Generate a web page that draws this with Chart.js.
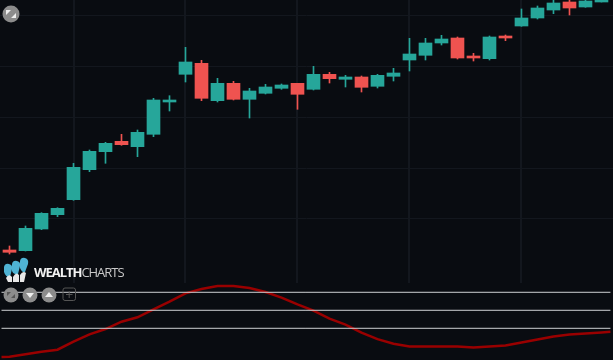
<!DOCTYPE html>
<html>
<head>
<meta charset="utf-8">
<script src="https://cdn.jsdelivr.net/npm/chart.js@4"></script>
<style>
    html, body { margin: 0; padding: 0; background: #090c11; overflow: hidden; }
    #wrap { position: relative; width: 613px; height: 360px; }
    #mainBox { position: absolute; left: 0; top: 0; width: 613px; height: 283px; }
    #oscBox { position: absolute; left: 0; top: 284px; width: 613px; height: 76px; }
    #brand { position: absolute; left: 34px; top: 263px; font: 13px "Open Sans", sans-serif; color: #c8c8c8; letter-spacing: -1.04px; }
    #brand b { color: #f2f2f2; font-weight: 700; }
    #icons { position: absolute; left: 0; top: 0; }
</style>
</head>
<body>
<div id="wrap">
    <div id="mainBox"><canvas id="mainChart"></canvas></div>
    <div id="oscBox"><canvas id="oscChart"></canvas></div>
    <svg id="icons" width="613" height="360">
        <g fill="#8c8c8c">
            <circle cx="11" cy="14" r="8.5"/>
            <circle cx="11" cy="295" r="7.5"/>
            <circle cx="30" cy="295" r="7.5"/>
            <circle cx="49" cy="295" r="7.5"/>
        </g>
        <g fill="#eeeeee">
            <path d="M6 15 L11 10 L6 10 Z M16 13 L11 18 L16 18 Z"/>
            <path d="M7 296 L11 292 L7 292 Z M15 294 L11 298 L15 298 Z" fill="#555"/>
            <path d="M26 293 L34 293 L30 298 Z"/>
            <path d="M45 297 L53 297 L49 292 Z"/>
        </g>
        <rect x="63" y="288" width="12.5" height="12.5" rx="2" fill="none" stroke="#555" stroke-width="1"/>
        <path d="M69.2 291 V298 M66 294.5 H72.5" stroke="#555" stroke-width="1"/>
        <g>
            <path d="M4 267 Q5 263 9 264 Q13 265 12 269 L10 277 Q6 278 4 272 Z" fill="#4fb3d4"/>
            <path d="M12 264 Q13 260 17 261 Q21 262 20 266 L18 274 Q14 275 12 271 Z" fill="#4fb3d4"/>
            <path d="M20 261 Q21 257 25 258 Q29 259 28 264 L25 272 Q22 273 20 268 Z" fill="#4fb3d4"/>
            <path d="M6 278 Q9 273 12 277 L12 282 H8 Z M13 277 Q16 271 19 275 L19 282 H13 Z M20 275 Q23 270 26 273 L24 282 H20 Z" fill="#e8e8e8"/>
        </g>
    </svg>
    <div id="brand"><b>WEALTH</b>CHARTS</div>
</div>
<script>
// Price is an unlabelled scale
const opens =  [33.0, 32.3, 54.0, 68.3, 83.3, 113.3, 131.3, 141.7, 136.3, 148.7, 181.0, 208.7, 219.7, 182.3, 199.7, 183.7, 189.7, 194.7, 199.7, 193.7, 208.7, 203.7, 206.0, 196.7, 206.7, 223.0, 227.7, 240.0, 245.0, 227.0, 224.3, 247.0, 257.0, 265.0, 273.0, 281.0, 276.0, 281.0];
const closes = [30.7, 54.7, 69.7, 74.7, 115.7, 131.7, 139.7, 138.3, 150.7, 183.0, 183.0, 221.0, 184.7, 199.7, 183.7, 192.0, 196.0, 198.0, 188.7, 208.7, 204.3, 206.0, 195.7, 207.7, 210.0, 229.0, 240.0, 244.0, 225.0, 225.0, 246.0, 245.0, 265.0, 275.0, 280.0, 275.0, 282.0, 284.0];
const highs =  [37.0, 57.0, 70.3, 75.3, 119.7, 133.0, 140.7, 148.7, 153.0, 184.7, 187.3, 235.7, 222.7, 204.7, 201.7, 194.7, 198.7, 199.0, 199.7, 216.7, 210.7, 207.7, 207.0, 208.7, 214.7, 244.7, 244.7, 247.7, 246.0, 229.7, 247.0, 248.0, 274.0, 277.0, 283.0, 283.0, 283.0, 284.0];
const lows =   [29.0, 32.0, 53.3, 66.3, 82.7, 111.3, 119.7, 137.7, 126.3, 146.3, 172.0, 201.0, 182.3, 181.0, 183.0, 165.0, 189.0, 193.7, 173.7, 193.0, 200.0, 196.0, 191.0, 195.0, 202.0, 212.0, 223.0, 238.0, 224.0, 222.0, 223.0, 242.3, 256.7, 264.0, 269.3, 268.0, 275.7, 281.0];

// Oscillator, one value per candle plus the two line ends
const oscLineX = [-0.5, 0, 1, 2, 3, 4, 5, 6, 7, 8, 9, 10, 11, 12, 13, 14, 15, 16, 17, 18, 19, 20, 21, 22, 23, 24, 25, 26, 27, 28, 29, 30, 31, 32, 33, 34, 35, 36, 37, 37.56];
const oscValues = [-27.7, -27.3, -23.4, -19, -15.7, -2.3, 10, 18.8, 31, 38.3, 51.7, 64.3, 78.3, 85.5, 90.5, 90.5, 87.2, 80.5, 71.2, 60, 49.5, 36.2, 26.2, 12.8, 2, -5.7, -10.2, -10.2, -10.2, -10.2, -11.8, -10.2, -8.5, -3.5, 1.5, 6.5, 9.8, 11.5, 13.2, 14.3];
const oscLevels = [80, 50, 20];

const gridX = [4, 11, 18, 25, 32];
const gridY = [64, 115, 166, 217, 268];
const levelEnds = [-0.5, 37.56];

const upColor = '#26a69a';
const downColor = '#ef5350';
const gridColor = '#13171e';
const xMin = -0.594;
const xMax = 37.72;

const candleColors = opens.map((o, i) => closes[i] >= o ? upColor : downColor);

new Chart(document.getElementById('mainChart'), {
    type: 'bar',
    data: {
        datasets: [
            {
                label: 'Wick',
                data: highs.map((h, i) => ({ x: i, y: [lows[i], h] })),
                backgroundColor: candleColors,
                barThickness: 1,
                grouped: false,
                order: 2
            },
            {
                label: 'Body',
                data: opens.map((o, i) => ({ x: i, y: [o, closes[i]] })),
                backgroundColor: candleColors,
                barThickness: 13,
                grouped: false,
                order: 1
            }
        ]
    },
    options: {
        responsive: true,
        maintainAspectRatio: false,
        animation: false,
        layout: { padding: 0 },
        plugins: { legend: { display: false }, tooltip: { enabled: false } },
        scales: {
            x: {
                type: 'linear',
                min: xMin,
                max: xMax,
                offset: false,
                display: true,
                border: { display: false },
                grid: { color: gridColor, lineWidth: 2, drawTicks: false, offset: false },
                ticks: { display: false },
                afterBuildTicks: axis => { axis.ticks = gridX.map(v => ({ value: v })); }
            },
            y: {
                min: 0,
                max: 283,
                display: true,
                border: { display: false },
                grid: { color: gridColor, lineWidth: 1, drawTicks: false },
                ticks: { display: false },
                afterBuildTicks: axis => { axis.ticks = gridY.map(v => ({ value: v })); }
            }
        }
    }
});

new Chart(document.getElementById('oscChart'), {
    type: 'line',
    data: {
        datasets: [
            ...oscLevels.map(level => ({
                label: 'Level ' + level,
                data: levelEnds.map(x => ({ x: x, y: level })),
                borderColor: '#cfd2d4',
                borderWidth: 1,
                pointRadius: 0
            })),
            {
                label: 'Oscillator',
                data: oscValues.map((v, i) => ({ x: oscLineX[i], y: v })),
                borderColor: '#990000',
                borderWidth: 2.5,
                pointRadius: 0,
                tension: 0
            }
        ]
    },
    options: {
        responsive: true,
        maintainAspectRatio: false,
        animation: false,
        layout: { padding: 0 },
        plugins: { legend: { display: false }, tooltip: { enabled: false } },
        scales: {
            x: { type: 'linear', min: xMin, max: xMax, display: false },
            y: { min: -32.8, max: 93.8, display: false }
        }
    }
});
</script>
</body>
</html>
